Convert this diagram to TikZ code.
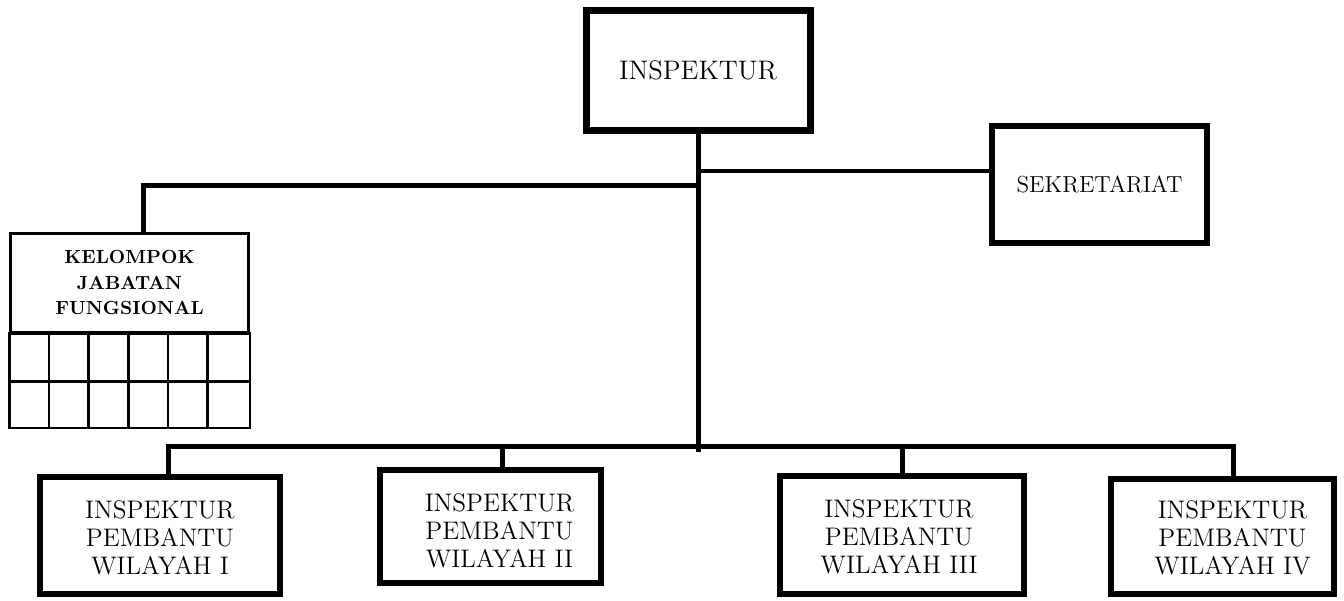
\documentclass[tikz,border=0pt]{standalone}
\usetikzlibrary{calc}
\begin{document}
\begin{tikzpicture}[x=0.5pt,y=-0.5pt,
  unitbox/.style={draw,line width=3pt,inner sep=0pt,align=center,
    font=\fontsize{12.7}{14}\selectfont},
  unittext/.style={inner sep=0pt,align=center,font=\fontsize{12.7}{14}\selectfont},
  topbox/.style={unitbox,line width=3.5pt,font=\fontsize{13.4}{15}\selectfont},
  conn/.style={line width=2.5pt},
  thinconn/.style={line width=2pt},
  gridline/.style={line width=1.25pt}]
\useasboundingbox (0,0) rectangle (1344,600);

% head and secretariat
\node[topbox,minimum width=112pt,minimum height=60pt] (insp) at (698,70) {INSPEKTUR};
\node[unitbox,font=\fontsize{11.6}{13}\selectfont,minimum width=107.5pt,minimum height=58.5pt] (sek) at (1099.5,184.5) {SEKRETARIAT};

% functional group: header with a 2x6 grid below
\node[draw,gridline,inner sep=0pt,align=center,minimum width=119pt,minimum height=49.25pt,
  font=\fontsize{9.5}{12.75}\selectfont\bfseries] (kel) at (129.5,282.75)
  {KELOMPOK\\JABATAN\\FUNGSIONAL};
\draw[gridline] (kel.south west) rectangle ($(kel.south east)+(0,94.5)$);
\draw[gridline] ($(kel.south west)+(0,48)$) -- ($(kel.south east)+(0,48)$);
\foreach \i in {1,...,5}
  \draw[gridline] ($(kel.south west)+(\i*39.67,0)$) -- ++(0,94.5);

% regional assistant inspectors
\node[unitbox,minimum width=120pt,minimum height=58.5pt,
  label={[unittext,yshift=-1pt]center:INSPEKTUR\\PEMBANTU\\WILAYAH I}] (w1) at (160,535.5) {};
\node[unitbox,minimum width=110.5pt,minimum height=56.5pt,
  label={[unittext,xshift=4.5pt,yshift=-2pt]center:INSPEKTUR\\PEMBANTU\\WILAYAH II}] (w2) at (490.5,526.5) {};
\node[unitbox,minimum width=122pt,minimum height=59pt,
  label={[unittext,xshift=-1.5pt,yshift=-1pt]center:INSPEKTUR\\PEMBANTU\\WILAYAH III}] (w3) at (902,535) {};
\node[unitbox,minimum width=111.5pt,minimum height=57.5pt,
  label={[unittext,xshift=5pt,yshift=-0.5pt]center:INSPEKTUR\\PEMBANTU\\WILAYAH IV}] (w4) at (1222.5,536.5) {};

% junction points
\coordinate (trunkend) at (698,452);
\coordinate (jl) at (698,185);
\coordinate (jr) at (698,171);
\coordinate (d1) at (168,446);
\coordinate (d2) at (502,446);
\coordinate (d3) at (902,446);
\coordinate (d4) at (1233,446);
\coordinate (kt) at (143,185);

% connectors
\draw[conn] (insp.south) -- (trunkend);
\draw[conn] (jl) -- (kt) -- (kt |- kel.north);
\draw[thinconn] (jr) -- (jr -| sek.west);
\draw[conn] (d1 |- w1.north) -- (d1) -- (d4) -- (d4 |- w4.north);
\draw[conn] (d2) -- (d2 |- w2.north);
\draw[conn] (d3) -- (d3 |- w3.north);
\end{tikzpicture}
\end{document}
